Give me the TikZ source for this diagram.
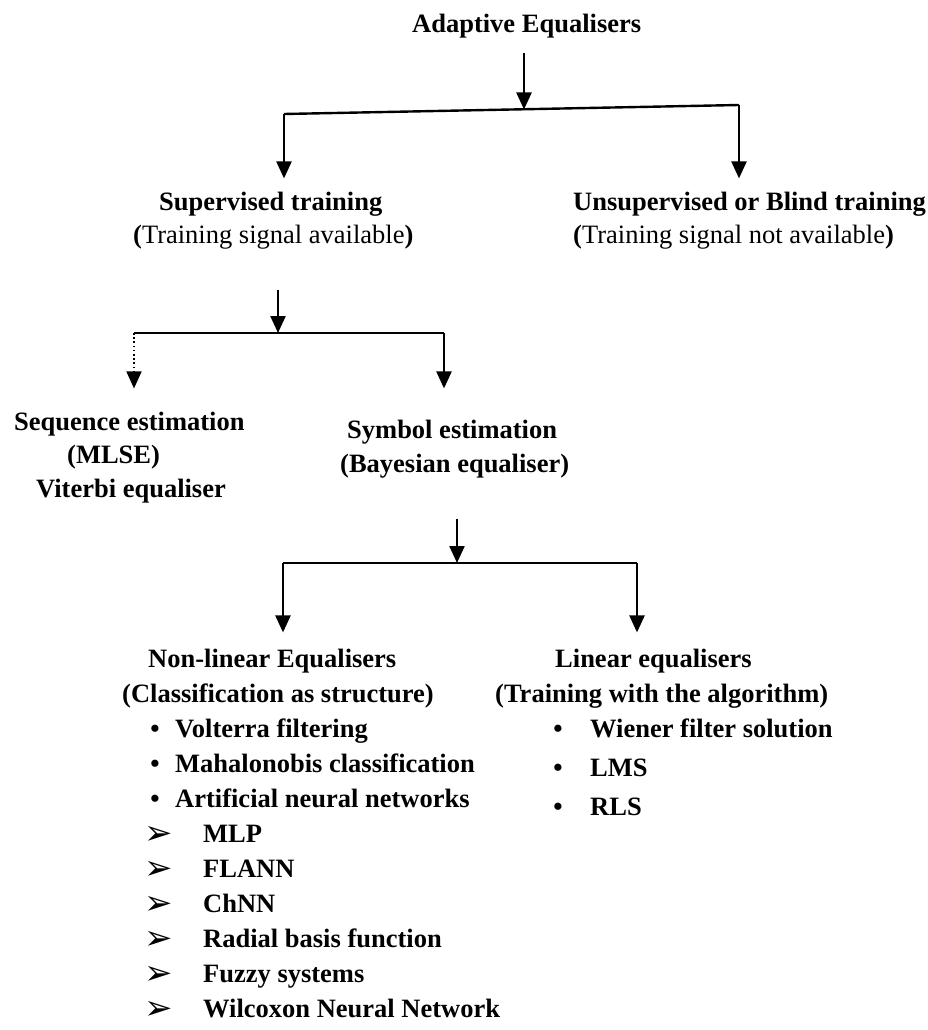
\documentclass[tikz,border=0pt]{standalone}
\usepackage{fontspec}
\setmainfont{Liberation Serif}
\newfontfamily\dingfont{DejaVu Sans}
\usetikzlibrary{arrows.meta}
\begin{document}
\begin{tikzpicture}[x=1pt,y=-1pt,
  lbl/.style={inner sep=0pt, anchor=base west, font=\fontsize{26.5}{30}\selectfont\bfseries},
  note/.style={inner sep=0pt, anchor=base west, font=\fontsize{26.5}{30}\selectfont},
  dotitem/.style={inner sep=0pt, anchor=base, font=\fontsize{26.5}{30}\selectfont\bfseries},
  pointer/.style={inner sep=0pt, anchor=base west, font=\dingfont\fontsize{34}{36}\selectfont},
  link/.style={line width=2.4pt},
  arr/.style={link, -{Triangle[width=15pt,length=17pt]}},
  dotarr/.style={line width=1.8pt, dash pattern=on 1.6pt off 2.6pt, -{Triangle[width=15pt,length=17pt]}},
]
\useasboundingbox (0,0) rectangle (928,1030);

% ---- level 0 ----
\node[lbl] (root) at (412,33) {Adaptive Equalisers};

% ---- level 1 ----
\node[lbl]  (sup)     at (159,210) {Supervised training};
\node[note] (supnote) at (133,243) {\textbf{(}Training signal available\textbf{)}};
\node[lbl]  (uns)     at (573,210) {Unsupervised or Blind training};
\node[note] (unsnote) at (573,243) {\textbf{(}Training signal not available\textbf{)}};

\coordinate (l1) at (284,114);
\coordinate (r1) at (739,105);
\coordinate (j1) at (524,109.5);
\draw[arr] ([yshift=-14pt]root.south -| j1) -- (j1);
\draw[link] (l1) -- (r1);
\draw[arr, shorten >=13pt] (l1) -- (l1 |- sup.north);
\draw[arr, shorten >=13pt] (r1) -- (r1 |- uns.north);

% ---- level 2 ----
\node[lbl] (seq)  at (14,430)  {Sequence estimation};
\node[lbl] (mlse) at (67,463)  {(MLSE)};
\node[lbl] (vit)  at (36,497)  {Viterbi equaliser};
\node[lbl] (sym)  at (347,438) {Symbol estimation};
\node[lbl] (bay)  at (340,472) {(Bayesian equaliser)};

\coordinate (l2) at (134,333);
\coordinate (r2) at (444,333);
\coordinate (j2) at (278,333);
\draw[arr] ([yshift=-41pt]supnote.south -| j2) -- (j2);
\draw[link] (l2) -- (r2);
\draw[dotarr, shorten >=23pt] (l2) -- (l2 |- seq.north);
\draw[arr, shorten >=31pt] (r2) -- (r2 |- sym.north);

% ---- level 3 ----
\node[lbl] (nonlin)     at (148,667) {Non-linear Equalisers};
\node[lbl] (nonlinnote) at (122,702) {(Classification as structure)};
\node[lbl] (lin)        at (555,667) {Linear equalisers};
\node[lbl] (linnote)    at (495,702) {(Training with the algorithm)};

\coordinate (l3) at (283,563);
\coordinate (r3) at (637,563);
\coordinate (j3) at (457,563);
\draw[arr] ([yshift=-41pt]bay.south -| j3) -- (j3);
\draw[link] (l3) -- (r3);
\draw[arr, shorten >=16pt] (l3) -- (l3 |- nonlin.north);
\draw[arr, shorten >=16pt] (r3) -- (r3 |- lin.north);

% ---- non-linear equaliser list ----
\foreach \t [count=\i] in {Volterra filtering, Mahalonobis classification, Artificial neural networks} {
  \node[dotitem] (nb\i) at (155,702+35*\i) {•};
  \node[lbl]     (nt\i) at (175,702+35*\i) {\t};
}
\foreach \t [count=\i] in {MLP, FLANN, ChNN, Radial basis function, Fuzzy systems, Wilcoxon Neural Network} {
  \node[pointer] (np\i) at (144,809+35*\i) {➢};
  \node[lbl]     (nn\i) at (203,807+35*\i) {\t};
}

% ---- linear equaliser list ----
\foreach \t/\y [count=\i] in {Wiener filter solution/737, LMS/776, RLS/815} {
  \node[dotitem] (lb\i) at (558,\y) {•};
  \node[lbl]     (lt\i) at (590,\y) {\t};
}
\end{tikzpicture}
\end{document}
